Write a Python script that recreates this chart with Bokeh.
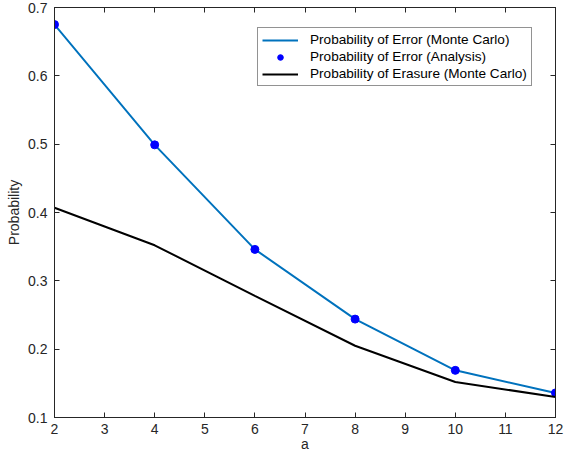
from bokeh.plotting import figure
from bokeh.models import LinearAxis, Range1d, FixedTicker, Legend, LegendItem, CustomJSTickFormatter
from bokeh.embed import file_html
from bokeh.resources import INLINE

a = [2, 4, 6, 8, 10, 12]
err_mc = [0.675, 0.499, 0.346, 0.244, 0.169, 0.136]
err_an = [0.675, 0.499, 0.346, 0.244, 0.169, 0.136]
erasure_mc = [0.407, 0.352, 0.278, 0.205, 0.152, 0.130]
x_ticks = [2, 3, 4, 5, 6, 7, 8, 9, 10, 11, 12]
y_ticks = [0.1, 0.2, 0.3, 0.4, 0.5, 0.6, 0.7]

FONT = "Liberation Sans"
AX = "#262626"

p = figure(width=569, height=456, output_backend="svg", toolbar_location=None,
           x_range=Range1d(2, 12), y_range=Range1d(0.1, 0.7),
           min_border_left=54, min_border_right=14, min_border_top=7, min_border_bottom=39,
           x_axis_label="a", y_axis_label="Probability")
p.grid.visible = False
p.outline_line_color = AX
p.outline_line_width = 1
p.background_fill_color = "white"
p.border_fill_color = "white"

def style(ax, labels=True):
    ax.major_tick_in = 5
    ax.major_tick_out = 0
    ax.minor_tick_line_color = None
    ax.axis_line_color = AX
    ax.major_tick_line_color = AX
    ax.major_label_text_font = FONT
    ax.major_label_text_font_size = "14px"
    ax.major_label_text_color = AX
    ax.axis_label_text_font = FONT
    ax.axis_label_text_font_size = "14px"
    ax.axis_label_text_font_style = "normal"
    ax.axis_label_text_color = AX
    if not labels:
        ax.formatter = CustomJSTickFormatter(code="return ''")
        ax.major_label_standoff = 0

p.xaxis.ticker = FixedTicker(ticks=x_ticks)
p.yaxis.ticker = FixedTicker(ticks=y_ticks)
style(p.xaxis[0])
style(p.yaxis[0])
p.xaxis.major_label_standoff = 6
p.xaxis.axis_label_standoff = -1
p.yaxis.major_label_standoff = 7
p.yaxis.axis_label_standoff = 3

top = LinearAxis(ticker=FixedTicker(ticks=x_ticks))
right = LinearAxis(ticker=FixedTicker(ticks=y_ticks))
style(top, False)
style(right, False)
p.add_layout(top, "above")
p.add_layout(right, "right")

l1 = p.line(a, err_mc, line_color="#0072BD", line_width=2)
c1 = p.scatter(a, err_an, marker="circle", size=8, fill_color="#0000FF", line_color="#0000FF")
l2 = p.line(a, erasure_mc, line_color="black", line_width=2)

legend = Legend(items=[
    LegendItem(label="Probability of Error (Monte Carlo)", renderers=[l1]),
    LegendItem(label="Probability of Error (Analysis)", renderers=[c1]),
    LegendItem(label="Probability of Erasure (Monte Carlo)", renderers=[l2]),
], location=(203, 331))
legend.label_text_font = FONT
legend.label_text_font_size = "13.6px"
legend.label_text_color = "black"
legend.glyph_width = 36
legend.glyph_height = 14
legend.label_height = 14
legend.spacing = 2
legend.padding = 4
legend.margin = 0
legend.border_line_color = AX
legend.border_line_width = 1
legend.background_fill_alpha = 1
legend.label_standoff = 12
p.add_layout(legend, "center")

open("out.html", "w").write(file_html(p, INLINE))
